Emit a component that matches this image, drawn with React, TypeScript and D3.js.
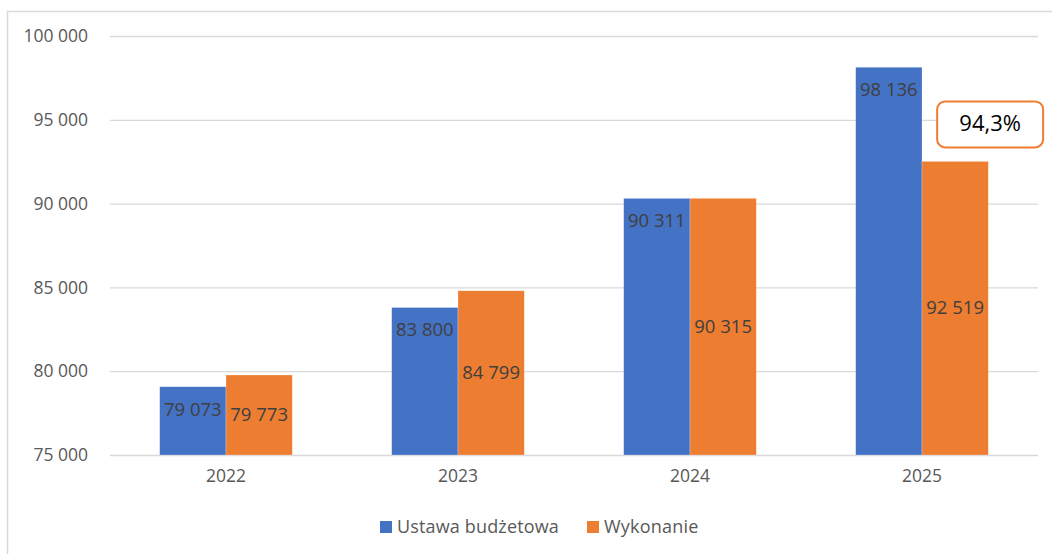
import { useEffect, useRef } from 'react'
import * as d3 from 'd3'

const years = ['2022', '2023', '2024', '2025']
const budget = [79073, 83800, 90311, 98136]
const actual = [79773, 84799, 90315, 92519]
const yTicks = [75000, 80000, 85000, 90000, 95000, 100000]
const seriesNames = ['Ustawa budżetowa', 'Wykonanie']
const note = '94,3%'

const BLUE = '#4472c4'
const ORANGE = '#ed7d31'
const FONT = '"Open Sans", "Noto Sans", sans-serif'

const fmt = (v: number) => {
  const s = String(v)
  return s.slice(0, s.length - 3) + ' ' + s.slice(-3)
}

export default function App() {
  const ref = useRef<SVGSVGElement>(null)

  useEffect(() => {
    if (!ref.current) return
    const el = ref.current
    const width = 1052
    const height = 554
    const margin = { top: 36, right: 14, bottom: 99, left: 110 }
    const iW = width - margin.left - margin.right
    const iH = height - margin.top - margin.bottom

    const root = d3.select(el)
    root.selectAll('*').remove()

    // outer frame
    root.append('path')
      .attr('d', `M${width},11.5 H7.5 V${height}`)
      .attr('fill', 'none')
      .attr('stroke', '#d9d9d9')
      .attr('stroke-width', 1.5)

    const svg = root.append('g').attr('transform', `translate(${margin.left},${margin.top})`)

    const x = d3.scaleBand().domain(years).range([0, iW]).paddingInner(0).paddingOuter(0)
    const x1 = d3.scaleBand().domain(['b', 'a']).range([0, x.bandwidth()]).paddingOuter(0.75).paddingInner(0)
    const y = d3.scaleLinear().domain([75000, 100000]).range([iH, 0])

    svg.append('g')
      .call(d3.axisLeft(y).tickValues(yTicks).tickSize(-iW).tickFormat(() => ''))
      .call(g => { g.select('.domain').remove(); g.selectAll('line').attr('stroke', '#d9d9d9').attr('stroke-width', 1.3) })

    svg.append('g')
      .call(d3.axisLeft(y).tickValues(yTicks).tickSize(0).tickFormat(d => fmt(d as number)))
      .call(g => {
        g.select('.domain').remove()
        g.selectAll('text').attr('fill', '#595959').attr('font-size', '17.5px').attr('font-family', FONT).attr('dx', '-19px')
      })

    svg.append('g')
      .attr('transform', `translate(0,${iH})`)
      .call(d3.axisBottom(x).tickSize(0))
      .call(g => {
        g.select('.domain').remove()
        g.selectAll('text').attr('fill', '#595959').attr('font-size', '17.5px').attr('font-family', FONT).attr('dy', '24px')
      })

    const groups = svg.selectAll('g.grp')
      .data(years)
      .join('g')
      .attr('class', 'grp')
      .attr('transform', d => `translate(${x(d)},0)`)

    groups.append('rect')
      .attr('x', x1('b')!)
      .attr('width', x1.bandwidth())
      .attr('y', (_, i) => y(budget[i]))
      .attr('height', (_, i) => iH - y(budget[i]))
      .attr('fill', BLUE)
      .attr('stroke', '#fff').attr('stroke-opacity', 0.4).attr('stroke-width', 0.6)

    groups.append('rect')
      .attr('x', x1('a')!)
      .attr('width', x1.bandwidth())
      .attr('y', (_, i) => y(actual[i]))
      .attr('height', (_, i) => iH - y(actual[i]))
      .attr('fill', ORANGE)
      .attr('stroke', '#fff').attr('stroke-opacity', 0.4).attr('stroke-width', 0.6)

    // budget labels: inside end
    groups.append('text')
      .attr('x', x1('b')! + x1.bandwidth() / 2)
      .attr('y', (_, i) => y(budget[i]) + 24)
      .attr('text-anchor', 'middle')
      .attr('dominant-baseline', 'middle')
      .attr('fill', '#404040')
      .attr('font-size', '18.5px')
      .attr('font-family', FONT)
      .text((_, i) => fmt(budget[i]))

    // actual labels: centered
    groups.append('text')
      .attr('x', x1('a')! + x1.bandwidth() / 2)
      .attr('y', (_, i) => (y(actual[i]) + iH) / 2 + 1)
      .attr('text-anchor', 'middle')
      .attr('dominant-baseline', 'middle')
      .attr('fill', '#404040')
      .attr('font-size', '18.5px')
      .attr('font-family', FONT)
      .text((_, i) => fmt(actual[i]))

    // callout over last orange bar
    const last = years[years.length - 1]
    const cx = x(last)! + x1('a')! + x1.bandwidth() / 2 + 35
    const cy = y(actual[actual.length - 1]) - 37
    svg.append('rect')
      .attr('x', cx - 53)
      .attr('y', cy - 23)
      .attr('width', 106)
      .attr('height', 46)
      .attr('rx', 8)
      .attr('fill', '#fff')
      .attr('stroke', ORANGE)
      .attr('stroke-width', 2)
    svg.append('text')
      .attr('x', cx)
      .attr('y', cy + 1)
      .attr('text-anchor', 'middle')
      .attr('dominant-baseline', 'middle')
      .attr('fill', '#000')
      .attr('font-size', '22px')
      .attr('font-family', FONT)
      .text(note)

    // legend
    const legend = root.append('g').attr('transform', 'translate(380,527)')
    const items = legend.selectAll('g')
      .data(seriesNames)
      .join('g')
      .attr('transform', (_, i) => `translate(${i === 0 ? 0 : 207},0)`)
    items.append('rect')
      .attr('x', 0).attr('y', -6).attr('width', 12).attr('height', 12)
      .attr('fill', (_, i) => (i === 0 ? BLUE : ORANGE))
    items.append('text')
      .attr('x', 17)
      .attr('y', 1)
      .attr('dominant-baseline', 'middle')
      .attr('fill', '#595959')
      .attr('font-size', '18px')
      .attr('letter-spacing', (_, i) => (i === 0 ? '0.15px' : '0.2px'))
      .attr('font-family', FONT)
      .text(d => d)
  }, [])

  return (
    <svg
      ref={ref}
      width={1052}
      height={554}
      style={{ position: 'absolute', top: 0, left: 0, display: 'block', background: '#fff' }}
    />
  )
}
